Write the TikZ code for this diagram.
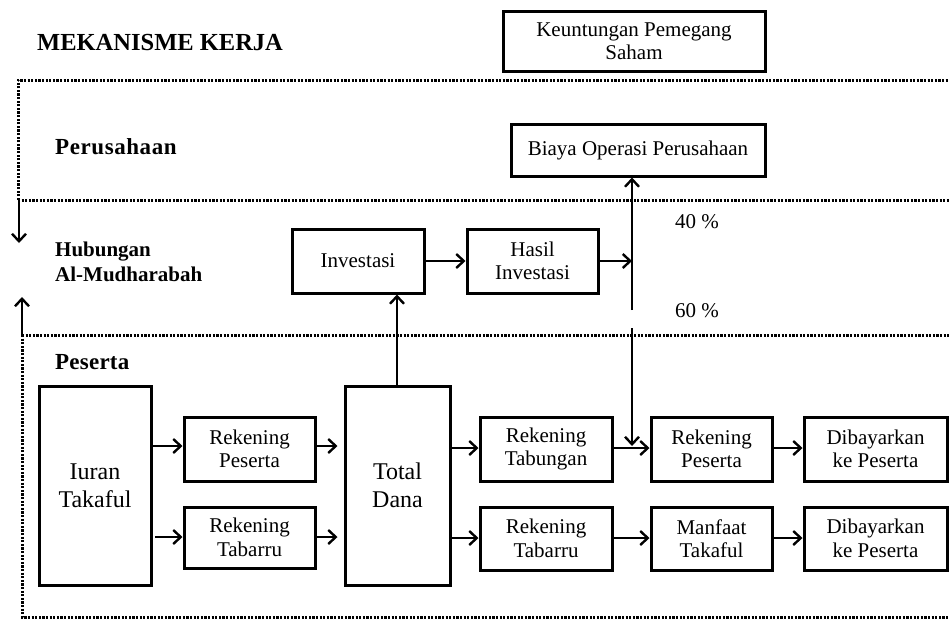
\documentclass[tikz,border=0pt]{standalone}
\usepackage{fontspec}
\setmainfont{Liberation Serif}
\usetikzlibrary{arrows.meta}
\tikzset{
  box/.style={draw, line width=3pt, inner sep=0pt, align=center, font=\fontsize{21}{23.5}\selectfont},
  bigbox/.style={box, font=\fontsize{24}{28}\selectfont},
  arr/.style={line width=2.4pt, -{Straight Barb[length=7.5pt,width=14pt,line width=2.4pt]}},
  dotline/.style={line width=3pt, dash pattern=on 2.2pt off 1.4pt},
  lbl/.style={font=\fontsize{21}{24}\selectfont\bfseries, anchor=west, align=left, inner sep=0pt},
  pct/.style={font=\fontsize{21}{23}\selectfont, inner sep=0pt},
}
\begin{document}
\begin{tikzpicture}[x=1pt,y=-1pt]
\useasboundingbox (0,0) rectangle (949,619);
% section dotted lines
\draw[dotline] (18,200) -- (18,80) -- (949,80);
\draw[dotline] (18,200) -- (949,200);
\draw[dotline] (22,335) -- (949,335);
\draw[dotline] (22,335) -- (22,617) -- (949,617);
% left arrows
\coordinate (ld1) at (19,200); \coordinate (ld2) at (19,243);
\coordinate (lu1) at (22,335); \coordinate (lu2) at (22,297);
\draw[arr] (ld1) -- (ld2);
\draw[arr] (lu1) -- (lu2);
% labels
\node[lbl, font=\fontsize{24.5}{26}\selectfont\bfseries] (title) at (37,43) {MEKANISME KERJA};
\node[lbl, font=\fontsize{23}{26}\selectfont\bfseries] (lper) at (55,147) {\addfontfeatures{LetterSpace=2.5}Perusahaan};
\node[lbl, font=\fontsize{21}{24.5}\selectfont\bfseries] (lhub) at (55,262) {Hubungan\\Al-Mudharabah};
\node[lbl, font=\fontsize{23}{26}\selectfont\bfseries] (lpes) at (55,362) {\addfontfeatures{LetterSpace=1}Peserta};
\node[pct] (p40) at (697,222) {40 \%};
\node[pct] (p60) at (697,311) {60 \%};
% boxes
\node[box, minimum width=262, minimum height=60] (keu) at (634,41) {Keuntungan Pemegang\\Saham};
\node[box, minimum width=254, minimum height=52] (biaya) at (638,150) {Biaya Operasi Perusahaan};
\node[box, minimum width=132, minimum height=64] (inv) at (358,261) {Investasi};
\node[box, minimum width=131, minimum height=64] (hasil) at (532.5,261) {Hasil\\Investasi};
\node[bigbox, minimum width=112, minimum height=199] (iuran) at (95,485.5) {Iuran\\Takaful};
\node[box, minimum width=131, minimum height=64] (rp1) at (249.5,449) {Rekening\\Peserta};
\node[box, minimum width=131, minimum height=61] (rt1) at (249.5,537.5) {Rekening\\Tabarru};
\node[bigbox, minimum width=105, minimum height=199] (total) at (397.5,485.5) {Total\\Dana};
\node[box, minimum width=132, minimum height=64] (tab) at (546,449) {Rekening\\Tabungan};
\node[box, minimum width=132, minimum height=63] (rt2) at (546,538.5) {Rekening\\Tabarru};
\node[box, minimum width=121, minimum height=64] (rp2) at (711.5,449) {Rekening\\Peserta};
\node[box, minimum width=121, minimum height=63] (man) at (711.5,538.5) {Manfaat\\Takaful};
\node[box, minimum width=143, minimum height=64] (dib1) at (875.5,449) {Dibayarkan\\ke Peserta};
\node[box, minimum width=143, minimum height=63] (dib2) at (875.5,538.5) {Dibayarkan\\ke Peserta};
% split coordinates
\coordinate (s1) at (632,310);
\coordinate (s2) at (632,328);
\coordinate (s3) at (632,446);
% connectors
\draw[arr] (inv.east) -- (hasil.west);
\draw[arr] (hasil.east) -- (hasil.east -| s1);
\draw[arr] (s1) -- (s1 |- biaya.south);
\draw[arr] (s2) -- (s3);
\draw[arr] (total.north -| 397,0) -- (inv.south -| 397,0);
\draw[arr] (iuran.east |- 0,446) -- (rp1.west |- 0,446);
\draw[arr] (155,537) -- (rt1.west |- 0,537);
\draw[arr, shorten >=6pt] (rp1.east |- 0,446) -- (total.west |- 0,446);
\draw[arr, shorten >=6pt] (rt1.east |- 0,537) -- (total.west |- 0,537);
\draw[arr] (total.east |- 0,448) -- (tab.west |- 0,448);
\draw[arr] (total.east |- 0,538) -- (rt2.west |- 0,538);
\draw[arr] (tab.east |- 0,448) -- (rp2.west |- 0,448);
\draw[arr] (rp2.east |- 0,448) -- (dib1.west |- 0,448);
\draw[arr] (rt2.east |- 0,538) -- (man.west |- 0,538);
\draw[arr] (man.east |- 0,538) -- (dib2.west |- 0,538);
\end{tikzpicture}
\end{document}
